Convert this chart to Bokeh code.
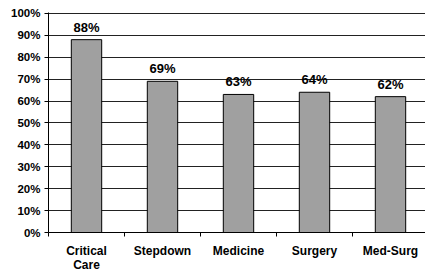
from bokeh.plotting import figure
from bokeh.models import Range1d, FixedTicker, ColumnDataSource
from bokeh.core.properties import value
from bokeh.embed import file_html
from bokeh.resources import INLINE

categories = ["Critical\nCare", "Stepdown", "Medicine", "Surgery", "Med-Surg"]
values = [88, 69, 63, 64, 62]
value_labels = ["88%", "69%", "63%", "64%", "62%"]
y_ticks = [0, 10, 20, 30, 40, 50, 60, 70, 80, 90, 100]
y_tick_labels = ["0%", "10%", "20%", "30%", "40%", "50%", "60%", "70%", "80%", "90%", "100%"]

xs = list(range(len(categories)))
src = ColumnDataSource(dict(x=xs, top=values, lab=value_labels))

p = figure(width=425, height=275, output_backend="svg", toolbar_location=None,
           x_range=Range1d(-0.5, -0.5 + 377 / 76), y_range=Range1d(0, 100.4),
           min_border_left=48, min_border_right=0, min_border_top=12, min_border_bottom=41)
p.outline_line_color = None
p.background_fill_color = "white"
p.border_fill_color = "white"

p.vbar(x="x", top="top", width=0.4, source=src, fill_color="#a0a0a0", line_color="black", line_width=1)
p.text(x="x", y="top", text="lab", source=src, text_align="center", text_baseline="bottom",
       y_offset=-5, text_font=value("Liberation Sans"), text_font_style="bold", text_font_size="13px",
       text_color="black")

font = "Liberation Sans"
# x axis
p.xaxis.ticker = FixedTicker(ticks=xs, minor_ticks=[i - 0.5 for i in range(len(categories) + 1)])
p.xaxis.major_label_overrides = {i: c for i, c in enumerate(categories)}
p.xaxis.major_tick_in = 0
p.xaxis.major_tick_out = 0
p.xaxis.minor_tick_in = 0
p.xaxis.minor_tick_out = 4
p.xaxis.minor_tick_line_color = "black"
p.xaxis.axis_line_color = "black"
p.xaxis.major_label_standoff = 7
p.xaxis.major_label_text_font = font
p.xaxis.major_label_text_font_style = "bold"
p.xaxis.major_label_text_font_size = "12px"
p.xaxis.major_label_text_line_height = 1.05
p.xaxis.major_label_text_color = "black"

# y axis
p.yaxis.ticker = FixedTicker(ticks=y_ticks)
p.yaxis.major_label_overrides = {t: l for t, l in zip(y_ticks, y_tick_labels)}
p.yaxis.major_tick_in = 0
p.yaxis.major_tick_out = 4
p.yaxis.minor_tick_line_color = None
p.yaxis.major_tick_line_color = "black"
p.yaxis.axis_line_color = "black"
p.yaxis.major_label_standoff = 4
p.yaxis.major_label_text_font = font
p.yaxis.major_label_text_font_style = "bold"
p.yaxis.major_label_text_font_size = "11.5px"
p.yaxis.major_label_text_color = "black"

p.xgrid.grid_line_color = None
p.ygrid.grid_line_color = "#222222"
p.ygrid.grid_line_width = 1

open("out.html", "w").write(file_html(p, INLINE))
